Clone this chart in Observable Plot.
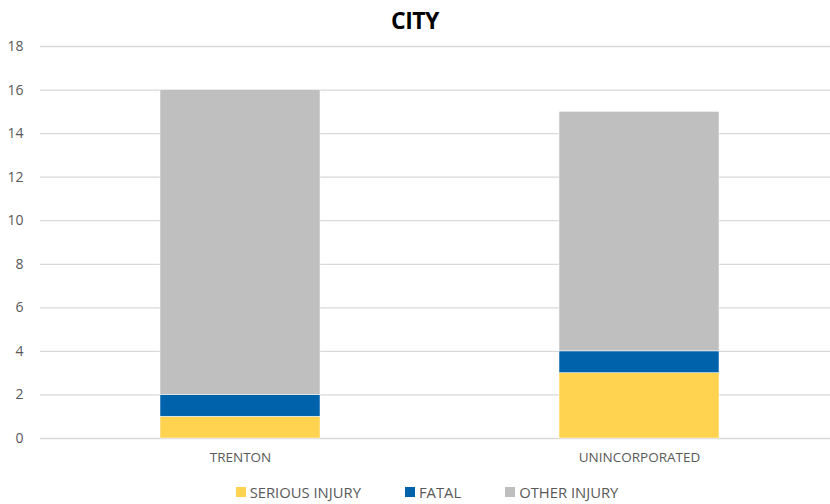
<!DOCTYPE html>
<html>
<head>
<meta charset="utf-8">
<script src="https://cdn.jsdelivr.net/npm/d3@7"></script>
<script src="https://cdn.jsdelivr.net/npm/@observablehq/plot@0.6"></script>
<style>
  html, body { margin: 0; padding: 0; background: #fff; }
  body { width: 830px; height: 504px; overflow: hidden; font-family: "Open Sans", "Liberation Sans", sans-serif; }
  #title { height: 36px; line-height: 40px; text-align: center; font-weight: bold; font-size: 23px; color: #000; letter-spacing: -0.5px; }
  #chart svg { display: block; }
  #legend { display: flex; justify-content: center; align-items: center; font-size: 14.8px; color: #595959; margin-top: 6px; padding-left: 24px; }
  #legend .item { display: flex; align-items: center; margin: 0 44px 0 0; }
  #legend .item:last-child { margin-right: 0; }
  #legend .sw { width: 10px; height: 10px; margin-right: 4px; }
</style>
</head>
<body>
<div id="title">CITY</div>
<div id="chart"></div>
<div id="legend"></div>
<script>
const cities = ["TRENTON", "UNINCORPORATED"];
const seriesNames = ["SERIOUS INJURY", "FATAL", "OTHER INJURY"];
const seriousInjury = [1, 3];
const fatal = [1, 1];
const otherInjury = [14, 11];
const colors = ["#FFD34F", "#0062AA", "#BFBFBF"];
const yTicks = [0, 2, 4, 6, 8, 10, 12, 14, 16, 18];

const seriesValues = [seriousInjury, fatal, otherInjury];
const data = [];
seriesNames.forEach((s, si) => {
  cities.forEach((c, ci) => data.push({city: c, series: s, order: si, value: seriesValues[si][ci]}));
});

const chart = Plot.plot({
  width: 830,
  height: 440,
  marginLeft: 40,
  marginRight: 0,
  marginTop: 10,
  marginBottom: 38,
  style: {fontFamily: "'Open Sans', 'Liberation Sans', sans-serif", fontSize: "14px", color: "#595959"},
  x: {domain: cities, range: [40, 838], paddingInner: 0.6, paddingOuter: 0.3, label: null},
  y: {domain: [0, 18], label: null},
  color: {domain: seriesNames, range: colors},
  marks: [
    Plot.gridY(yTicks, {stroke: "#d9d9d9", strokeOpacity: 1, strokeWidth: 1.3}),
    Plot.axisY(yTicks, {tickSize: 0, tickPadding: 17, fontSize: 14, fill: "#595959", label: null}),
    Plot.axisX({tickSize: 0, tickPadding: 14, fontSize: 13.5, fill: "#595959", label: null}),
    Plot.barY(data, Plot.stackY({order: "order"}, {x: "city", y: "value", fill: "series", stroke: "#fff", strokeWidth: 0.5}))
  ]
});
document.getElementById("chart").appendChild(chart);

const legend = document.getElementById("legend");
seriesNames.forEach((s, i) => {
  const item = document.createElement("div");
  item.className = "item";
  const sw = document.createElement("span");
  sw.className = "sw";
  sw.style.background = colors[i];
  const lab = document.createElement("span");
  lab.textContent = s;
  item.appendChild(sw);
  item.appendChild(lab);
  legend.appendChild(item);
});
</script>
</body>
</html>
